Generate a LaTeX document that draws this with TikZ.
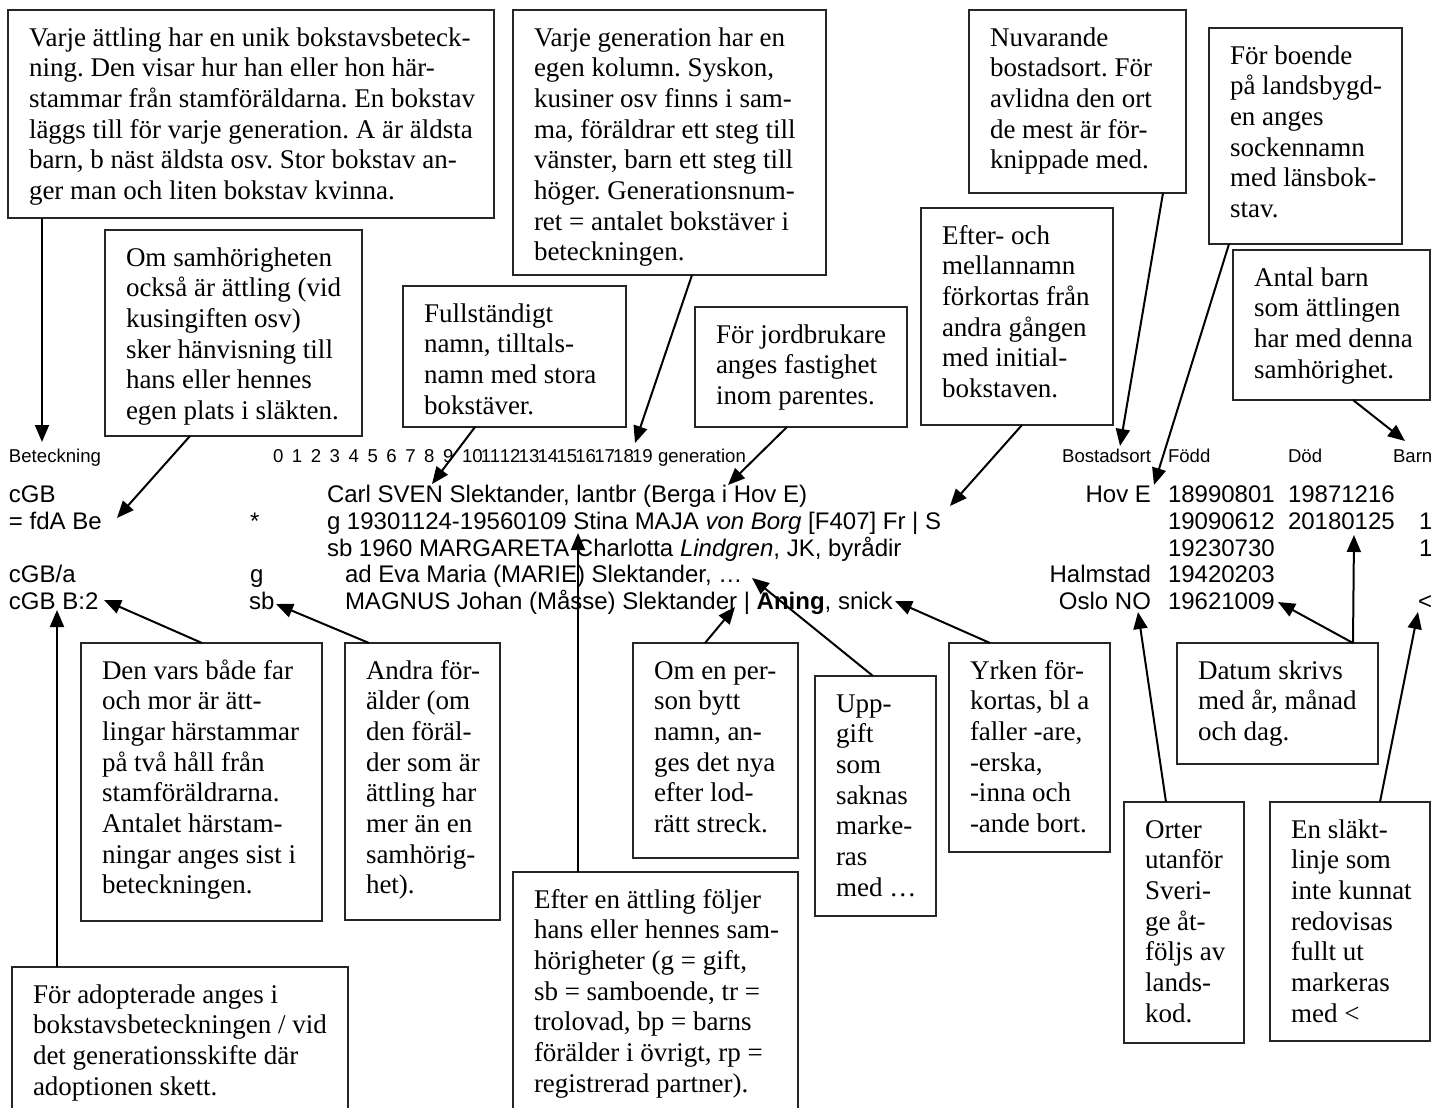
\documentclass[tikz,border=0pt]{standalone}
\usepackage{fontspec}
\setmainfont{Liberation Serif}
\newfontfamily\arialf{Liberation Sans}
\usetikzlibrary{calc,arrows.meta}
\frenchspacing
\tikzset{
  boxsty/.style={draw=black!85, line width=0.55pt, anchor=north west, inner sep=0pt, outer sep=0pt},
  txtsty/.style={anchor=north west, inner sep=0pt, outer sep=0pt, align=left, font=\frenchspacing\fontsize{13.5}{15.35}\selectfont},
  dat/.style={inner sep=0pt, outer sep=0pt, font=\arialf\fontsize{12}{13}\selectfont},
  hdr/.style={inner sep=0pt, outer sep=0pt, anchor=base west, font=\arialf\fontsize{9.3}{10}\selectfont},
  arr/.style={draw=black, line width=1pt, -{Triangle[length=8.5pt,width=7pt]}}
}
\newcommand\cbox[6]{%
  \node[boxsty, minimum width={(#4-#2)*0.5pt}, minimum height={(#5-#3)*0.5pt}] (#1) at (#2,#3) {};
  \node[txtsty] (#1t) at ($(#1.north west)+(21,12)$) {\rule{0pt}{12pt}#6};
}
\begin{document}
\begin{tikzpicture}[x=0.5pt,y=-0.5pt]
\useasboundingbox (0,0) rectangle (1431,1108);
\clip (0,0) rectangle (1431,1108);

% ---------- boxes, top ----------
\cbox{top1}{8}{10}{494}{218}{Varje ättling har en unik bokstavsbeteck-\\ning. Den visar hur han eller hon här-\\stammar från stamföräldarna. En bokstav\\läggs till för varje generation. A är äldsta\\barn, b näst äldsta osv. Stor bokstav an-\\ger man och liten bokstav kvinna.}
\cbox{samh}{105}{230}{362}{436}{Om samhörigheten\\också är ättling (vid\\kusingiften osv)\\sker hänvisning till\\hans eller hennes\\egen plats i släkten.}
\cbox{full}{403}{286}{626}{427}{Fullständigt\\namn, tilltals-\\namn med stora\\bokstäver.}
\cbox{gen}{513}{10}{826}{275}{Varje generation har en\\egen kolumn. Syskon,\\kusiner osv finns i sam-\\ma, föräldrar ett steg till\\vänster, barn ett steg till\\höger. Generationsnum-\\ret = antalet bokstäver i\\beteckningen.}
\cbox{jord}{695}{307}{907}{427}{För jordbrukare\\anges fastighet\\inom parentes.}
\cbox{efter}{921}{208}{1113}{425}{Efter- och\\mellannamn\\förkortas från\\andra gången\\med initial-\\bokstaven.}
\cbox{nuv}{969}{10}{1186}{193}{Nuvarande\\bostadsort. För\\avlidna den ort\\de mest är för-\\knippade med.}
\cbox{boende}{1209}{28}{1402}{244}{För boende\\på landsbygd-\\en anges\\sockennamn\\med länsbok-\\stav.}
\cbox{antal}{1233}{250}{1430}{400}{Antal barn\\som ättlingen\\har med denna\\samhörighet.}

% ---------- boxes, bottom ----------
\cbox{den}{81}{643}{322}{921}{Den vars både far\\och mor är ätt-\\lingar härstammar\\på två håll från\\stamföräldrarna.\\Antalet härstam-\\ningar anges sist i\\beteckningen.}
\cbox{andra}{345}{643}{500}{920}{Andra för-\\älder (om\\den föräl-\\der som är\\ättling har\\mer än en\\samhörig-\\het).}
\cbox{adopt}{12}{967}{348}{1130}{För adopterade anges i\\bokstavsbeteckningen / vid\\det generationsskifte där\\adoptionen skett.}
\cbox{efteratt}{513}{872}{798}{1130}{Efter en ättling följer\\hans eller hennes sam-\\hörigheter (g = gift,\\sb = samboende, tr =\\trolovad, bp = barns\\förälder i övrigt, rp =\\registrerad partner).}
\cbox{omen}{633}{643}{798}{858}{Om en per-\\son bytt\\namn, an-\\ges det nya\\efter lod-\\rätt streck.}
\cbox{upp}{815}{676}{936}{916}{Upp-\\gift\\som\\saknas\\marke-\\ras\\med …}
\cbox{yrken}{949}{643}{1110}{852}{Yrken för-\\kortas, bl a\\faller -are,\\-erska,\\-inna och\\-ande bort.}
\cbox{orter}{1124}{802}{1244}{1043}{Orter\\utanför\\Sveri-\\ge åt-\\följs av\\lands-\\kod.}
\cbox{datum}{1177}{643}{1378}{764}{Datum skrivs\\med år, månad\\och dag.}
\cbox{slakt}{1270}{802}{1430}{1041}{En släkt-\\linje som\\inte kunnat\\redovisas\\fullt ut\\markeras\\med <}

% ---------- header row ----------
\node[hdr] (hBet) at (9,462) {Beteckning};
\foreach \i in {0,...,19} {\node[hdr] (g\i) at ({273+18.9*\i},462) {\i};}
\node[hdr] (hgen) at (658,462) {generation};
\node[hdr, anchor=base east] (hBost) at (1151,462) {Bostadsort};
\node[hdr] (hFodd) at (1168,462) {Född};
\node[hdr] (hDod) at (1288,462) {Död};
\node[hdr] (hBarn) at (1393,462) {Barn};

% ---------- data rows ----------
\node[dat, anchor=base west] (r1a) at (9,502) {cGB};
\node[dat, anchor=base west] (r1b) at (327,502) {Carl SVEN Slektander, lantbr (Berga i Hov E)};
\node[dat, anchor=base east] (r1c) at (1151,502) {Hov E};
\node[dat, anchor=base west] (r1d) at (1168,502) {18990801};
\node[dat, anchor=base west] (r1e) at (1288,502) {19871216};

\node[dat, anchor=base west] (r2a) at (9,529) {= fdA Be};
\node[dat, anchor=base west] (r2s) at (250,529) {*};
\node[dat, anchor=base west] (r2b) at (327,529) {g 19301124-19560109 Stina MAJA \textit{von Borg} [F407] Fr | S};
\node[dat, anchor=base west] (r2d) at (1168,529) {19090612};
\node[dat, anchor=base west] (r2e) at (1288,529) {20180125};
\node[dat, anchor=base west] (r2f) at (1419,529) {1};

\node[dat, anchor=base west] (r3b) at (327,556) {sb 1960 MARGARETA Charlotta \textit{Lindgren}, JK, byrådir};
\node[dat, anchor=base west] (r3d) at (1168,556) {19230730};
\node[dat, anchor=base west] (r3f) at (1419,556) {1};

\node[dat, anchor=base west] (r4a) at (9,582) {cGB/a};
\node[dat, anchor=base west] (r4s) at (250,582) {g};
\node[dat, anchor=base west] (r4b) at (345,582) {ad Eva Maria (MARIE) Slektander, …};
\node[dat, anchor=base east] (r4c) at (1151,582) {Halmstad};
\node[dat, anchor=base west] (r4d) at (1168,582) {19420203};

\node[dat, anchor=base west] (r5a) at (9,609) {cGB B:2};
\node[dat, anchor=base west] (r5s) at (249,609) {sb};
\node[dat, anchor=base west] (r5b) at (345,609) {MAGNUS Johan (Måsse) Slektander | \textbf{Aning}, snick};
\node[dat, anchor=base east] (r5c) at (1151,609) {Oslo NO};
\node[dat, anchor=base west] (r5d) at (1168,609) {19621009};
\node[dat, anchor=base west] (r5f) at (1418,609) {<};

% ---------- arrow tips ----------
\coordinate (tA1) at (42,442);
\coordinate (tA2) at (117,518);
\coordinate (tA3) at (432,484);
\coordinate (tA4) at (635,443);
\coordinate (tA5) at (728,485);
\coordinate (tA6) at (950,506);
\coordinate (tA7) at (1120,446);
\coordinate (tA8) at (1154,485);
\coordinate (tA9) at (1405,441);
\coordinate (tB1) at (57,610);
\coordinate (tB2) at (104,600);
\coordinate (tB3) at (276,604);
\coordinate (tB4) at (578,533);
\coordinate (tB5) at (735,607);
\coordinate (tB6) at (752,578);
\coordinate (tB7) at (895,601);
\coordinate (tB8) at (1138,612);
\coordinate (tB9a) at (1278,602);
\coordinate (tB9b) at (1354,535);
\coordinate (tB10) at (1418,612);

% ---------- arrows ----------
\draw[arr] ($(top1.south west)+(34,0)$) -- (tA1);
\draw[arr] ($(samh.south west)+(85,0)$) -- (tA2);
\draw[arr] ($(full.south west)+(72,0)$) -- (tA3);
\draw[arr] ($(gen.south west)+(179,0)$) -- (tA4);
\draw[arr] ($(jord.south west)+(92,0)$) -- (tA5);
\draw[arr] ($(efter.south west)+(101,0)$) -- (tA6);
\draw[arr] ($(nuv.south west)+(194,0)$) -- (tA7);
\draw[arr] ($(boende.south west)+(20,0)$) -- (tA8);
\draw[arr] ($(antal.south west)+(120,0)$) -- (tA9);

\draw[arr] ($(adopt.north west)+(45,0)$) -- (tB1);
\draw[arr] ($(den.north west)+(121,0)$) -- (tB2);
\draw[arr] ($(andra.north west)+(24,0)$) -- (tB3);
\draw[arr] ($(efteratt.north west)+(65,0)$) -- (tB4);
\draw[arr] ($(omen.north west)+(72,0)$) -- (tB5);
\draw[arr] ($(upp.north west)+(58,0)$) -- (tB6);
\draw[arr] ($(yrken.north west)+(41,0)$) -- (tB7);
\draw[arr] ($(orter.north west)+(42,0)$) -- (tB8);
\draw[arr] ($(datum.north west)+(176,0)$) -- (tB9a);
\draw[arr] ($(datum.north west)+(176,0)$) -- (tB9b);
\draw[arr] ($(slakt.north west)+(110,0)$) -- (tB10);
\end{tikzpicture}
\end{document}
